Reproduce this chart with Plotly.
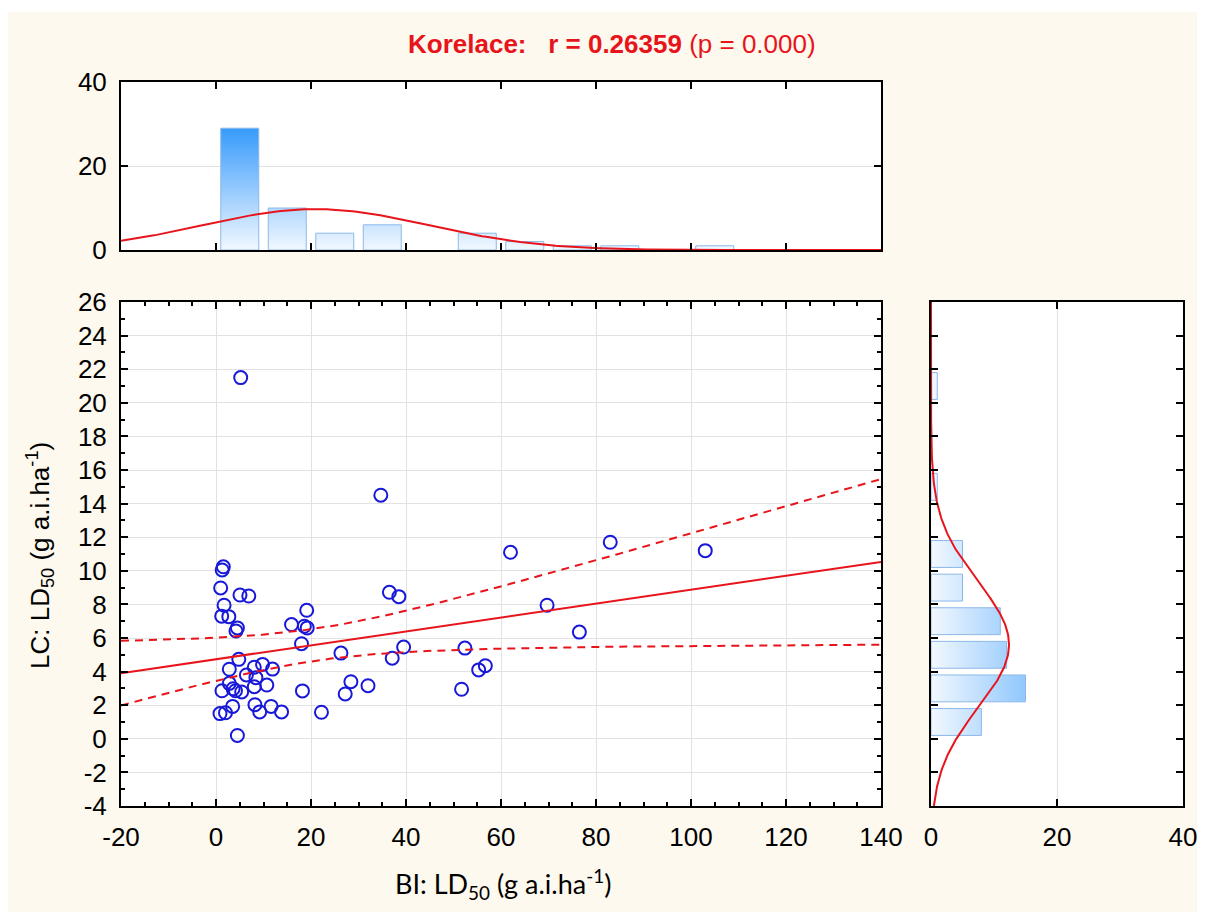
import numpy as np
import plotly.graph_objects as go

# ---- data ----
bi_ld50 = [1.54, 1.3, 0.98, 5.05, 6.9, 1.7, 1.2, 2.7, 19.1, 4.5,
           4.2, 15.9, 18.6, 19.2, 18.0, 26.3, 36.5, 38.5, 37.1, 39.5,
           4.8, 2.8, 8.06, 9.8, 11.9, 6.4, 8.4, 2.8, 3.6, 1.26,
           4.1, 5.4, 8.06, 10.7, 18.2, 3.5, 8.2, 11.6, 0.84, 2.0,
           9.2, 13.8, 22.2, 4.5, 27.2, 28.4, 32.0, 5.2, 34.7, 62.0,
           83.0, 103.0, 69.7, 76.5, 52.4, 56.7, 55.3, 51.7]
lc_ld50 = [10.24, 10.05, 8.98, 8.56, 8.5, 7.95, 7.3, 7.27, 7.65, 6.6,
           6.42, 6.8, 6.7, 6.6, 5.66, 5.1, 8.72, 8.46, 4.8, 5.46,
           4.73, 4.14, 4.26, 4.43, 4.15, 3.8, 3.64, 3.3, 2.98, 2.86,
           2.86, 2.79, 3.1, 3.2, 2.85, 1.93, 2.03, 1.93, 1.5, 1.55,
           1.6, 1.6, 1.58, 0.2, 2.67, 3.4, 3.16, 21.5, 14.5, 11.1,
           11.7, 11.2, 7.95, 6.35, 5.4, 4.35, 4.1, 2.95]
x_bins = list(range(0, 120, 10))     # BI histogram bin edges
y_bins = list(range(0, 24, 2))       # LC histogram bin edges
x_ticks = [-20, 0, 20, 40, 60, 80, 100, 120, 140]
x_ticklabels = ["-20", "0", "20", "40", "60", "80", "100", "120", "140"]
y_ticks = list(range(-4, 27, 2))
y_ticklabels = ["-4", "-2", "0", "2", "4", "6", "8", "10", "12", "14", "16",
                "18", "20", "22", "24", "26"]
count_ticks = [0, 20, 40]
count_ticklabels = ["0", "20", "40"]
title_html = "<b>Korelace:\u00a0\u00a0\u00a0r = 0.26359</b> (p = 0.000)"
x_title = "BI: LD<sub>50</sub> (g a.i.ha<sup>-1</sup>)"
y_title = "LC: LD<sub>50</sub> (g a.i.ha<sup>-1</sup>)"

x = np.array(bi_ld50, dtype=float)
y = np.array(lc_ld50, dtype=float)
n = len(x)

W, H = 1205, 912
OX, OY = 8, 8          # page offset of the figure in the browser
def px(v): return (v - OX) / W
def py(v): return 1 - (v - OY) / H

RED = "#e8141b"
BLUE = "#1818d8"
CREAM = "#fdf9ee"

fig = go.Figure()

# ---- regression with 95% confidence band ----
xm, ym = x.mean(), y.mean()
sxx = ((x - xm) ** 2).sum()
b = ((x - xm) * (y - ym)).sum() / sxx
a = ym - b * xm
resid = y - (a + b * x)
s = np.sqrt((resid ** 2).sum() / (n - 2))
t = 2.003
xs = np.linspace(-20, 140, 200)
yhat = a + b * xs
half = t * s * np.sqrt(1 / n + (xs - xm) ** 2 / sxx)

fig.add_trace(go.Scatter(x=x, y=y, mode="markers",
                         marker=dict(symbol="circle-open", size=13, color=BLUE,
                                     line=dict(width=2, color=BLUE)),
                         xaxis="x", yaxis="y", showlegend=False, hoverinfo="x+y"))
fig.add_trace(go.Scatter(x=xs, y=yhat, mode="lines", line=dict(color=RED, width=2),
                         xaxis="x", yaxis="y", showlegend=False))
for sign in (1, -1):
    fig.add_trace(go.Scatter(x=xs, y=yhat + sign * half, mode="lines",
                             line=dict(color=RED, width=2, dash="8px,6px"),
                             xaxis="x", yaxis="y", showlegend=False))

# ---- top histogram (BI) ----
cx, ex = np.histogram(x, bins=x_bins)
hx, hy = [], []
for c, l, r in zip(cx, ex[:-1], ex[1:]):
    if c == 0:
        continue
    w = r - l
    x0, x1 = l + 0.1 * w, r - 0.1 * w
    hx += [x0, x1, x1, x0, x0, None]
    hy += [0, 0, c, c, 0, None]
fig.add_trace(go.Scatter(x=hx, y=hy, mode="lines", fill="toself",
                         line=dict(color="#8db8ea", width=1),
                         fillgradient=dict(type="vertical", start=0, stop=30,
                                           colorscale=[[0, "#f2f8ff"], [1, "#3097fb"]]),
                         xaxis="x2", yaxis="y2", showlegend=False, hoverinfo="skip"))
gx = np.linspace(-20, 140, 300)
sdx = x.std(ddof=1)
fx = n * 10 * np.exp(-0.5 * ((gx - xm) / sdx) ** 2) / (sdx * np.sqrt(2 * np.pi))
fig.add_trace(go.Scatter(x=gx, y=fx, mode="lines", line=dict(color=RED, width=2),
                         xaxis="x2", yaxis="y2", showlegend=False))

# ---- right histogram (LC) ----
cy, ey = np.histogram(y, bins=y_bins)
vx, vy = [], []
for c, l, r in zip(cy, ey[:-1], ey[1:]):
    if c == 0:
        continue
    w = r - l
    y0, y1 = l + 0.1 * w, r - 0.1 * w
    vx += [0, c, c, 0, 0, None]
    vy += [y0, y0, y1, y1, y0, None]
fig.add_trace(go.Scatter(x=vx, y=vy, mode="lines", fill="toself",
                         line=dict(color="#8db8ea", width=1),
                         fillgradient=dict(type="horizontal", start=0, stop=30,
                                           colorscale=[[0, "#f2f8ff"], [1, "#3097fb"]]),
                         xaxis="x3", yaxis="y3", showlegend=False, hoverinfo="skip"))
gy = np.linspace(-4, 26, 300)
sdy = y.std(ddof=1)
fy = n * 2 * np.exp(-0.5 * ((gy - ym) / sdy) ** 2) / (sdy * np.sqrt(2 * np.pi))
fig.add_trace(go.Scatter(x=fy, y=gy, mode="lines", line=dict(color=RED, width=2),
                         xaxis="x3", yaxis="y3", showlegend=False))

tickfont = dict(family="Arial, 'Liberation Sans', sans-serif", size=26, color="black")
common = dict(showline=True, linecolor="black", linewidth=2, mirror="allticks",
              ticks="inside", ticklen=7, tickwidth=1.5, tickcolor="black",
              gridcolor="#e2e2e2", gridwidth=1, zeroline=False, tickfont=tickfont,
              ticklabelstandoff=7, fixedrange=True, automargin=False)

main_x = [px(121), px(881)]
main_y = [py(806), py(302)]

fig.update_layout(
    width=W, height=H,
    margin=dict(l=0, r=0, t=0, b=0, pad=0, autoexpand=False),
    paper_bgcolor=CREAM, plot_bgcolor="white", showlegend=False,
    xaxis=dict(domain=main_x, anchor="y", range=[-20, 140], tickvals=x_ticks,
               ticktext=x_ticklabels, showgrid=True,
               minor=dict(ticks="inside", ticklen=4, dtick=5, tick0=0,
                          tickcolor="black", showgrid=False), **common),
    yaxis=dict(domain=main_y, anchor="x", range=[-4, 26], tickvals=y_ticks,
               ticktext=y_ticklabels, showgrid=True,
               minor=dict(ticks="inside", ticklen=4, dtick=1, tick0=0,
                          tickcolor="black", showgrid=False), **common),
    xaxis2=dict(domain=main_x, anchor="y2", range=[-20, 140], tickvals=x_ticks,
                showticklabels=False, showgrid=False, **common),
    yaxis2=dict(domain=[py(250), py(82)], anchor="x2", range=[0, 40],
                tickvals=count_ticks, ticktext=count_ticklabels, showgrid=True, **common),
    xaxis3=dict(domain=[px(931), px(1183)], anchor="y3", range=[0, 40],
                tickvals=count_ticks, ticktext=count_ticklabels, showgrid=True, **common),
    yaxis3=dict(domain=main_y, anchor="x3", range=[-4, 26], tickvals=y_ticks,
                showticklabels=False, showgrid=False, **common),
    shapes=[dict(type="rect", xref="paper", yref="paper", x0=0, x1=1,
                 y0=py(12), y1=1, fillcolor="white", line=dict(width=0), layer="below")],
    annotations=[
        dict(text=title_html, x=px(612), y=py(44), xref="paper", yref="paper",
             xanchor="center", yanchor="middle", showarrow=False,
             font=dict(family="Arial, 'Liberation Sans', sans-serif", size=26, color=RED)),
        dict(text=x_title, x=px(503), y=py(884), xref="paper", yref="paper",
             xanchor="center", yanchor="middle", showarrow=False,
             font=dict(family="Lato, sans-serif", size=27, color="black")),
        dict(text=y_title, x=px(40), y=py(556), xref="paper", yref="paper",
             xanchor="center", yanchor="middle", showarrow=False, textangle=-90,
             font=dict(family="Arial, 'Liberation Sans', sans-serif", size=26, color="black")),
    ],
)

fig.write_html("out.html")
